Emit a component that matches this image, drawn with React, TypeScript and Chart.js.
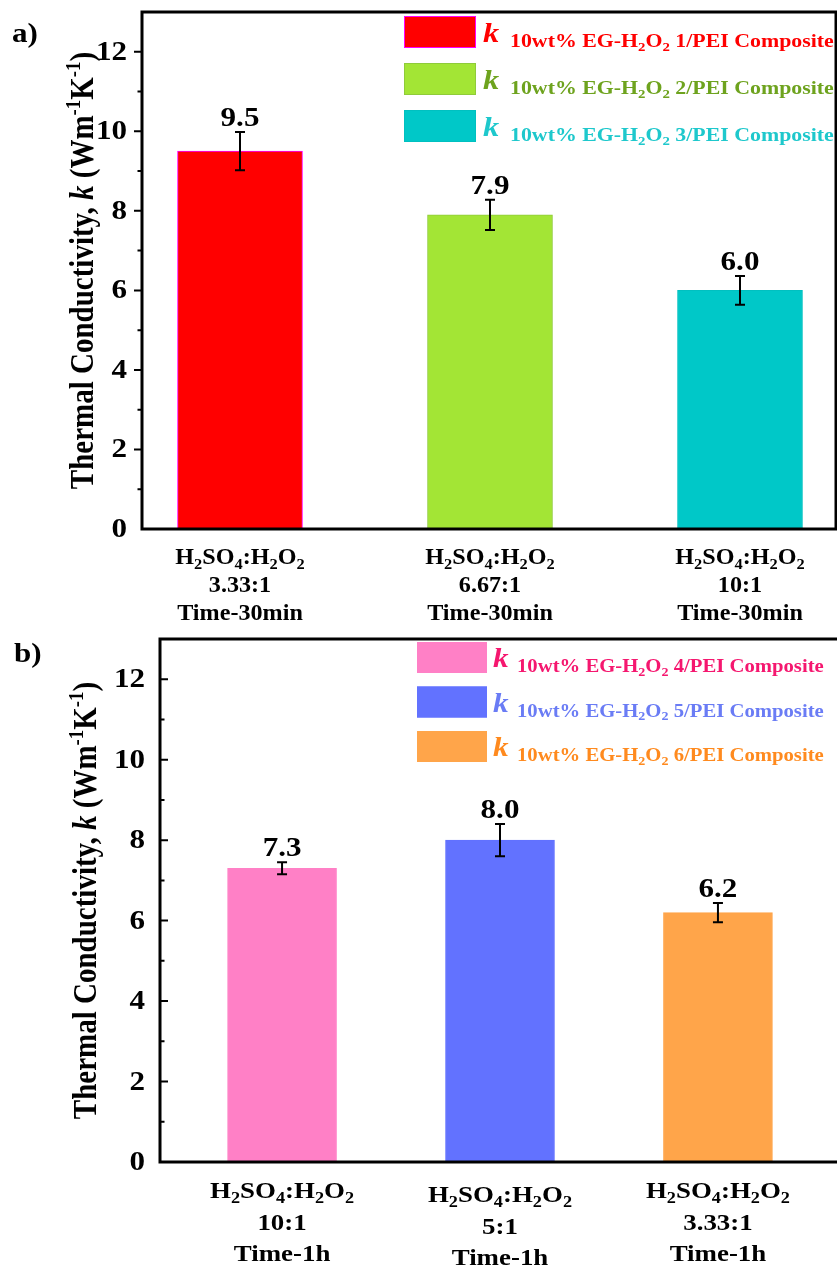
import React, { useEffect, useRef } from "react";
import { Chart, registerables } from "chart.js";
Chart.register(...registerables);

const SERIF = '"Liberation Serif", "Times New Roman", serif';
const SX = 1.15; // horizontal text stretch seen in the reference

// ---------- Panel a data ----------
const positionsA = [1, 2, 3];
const valuesA = [9.5, 7.9, 6.0];
const errorsA = [0.48, 0.38, 0.36];
const ratiosA = ["3.33:1", "6.67:1", "10:1"];
const timesA = ["Time-30min", "Time-30min", "Time-30min"];
const legendIdsA = ["1", "2", "3"];
const barColorsA = ["#FF0000", "#A3E535", "#00C8C8"];
const barBordersA = ["#FF00FF", "#8FCB3A", "#00C0C0"];
const textColorsA = ["#FF0000", "#6EA31E", "#1EC8CC"];

// ---------- Panel b data ----------
const positionsB = [1, 2, 3];
const valuesB = [7.3, 8.0, 6.2];
const errorsB = [0.15, 0.4, 0.24];
const ratiosB = ["10:1", "5:1", "3.33:1"];
const timesB = ["Time-1h", "Time-1h", "Time-1h"];
const legendIdsB = ["4", "5", "6"];
const barColorsB = ["#FF80C6", "#6272FF", "#FFA54A"];
const barBordersB = ["#FF80C6", "#6272FF", "#FFA54A"];
const textColorsB = ["#F5176F", "#6A7CF5", "#FF8A1E"];

// ---------- axis ----------
const yMajorTicks = [0, 2, 4, 6, 8, 10, 12];
const yMinorTicks = [1, 3, 5, 7, 9, 11];
const yMax = 13;

type Seg = { t: string; size: number; italic?: boolean; dy?: number; color?: string };

function segFont(s: Seg) {
  return `${s.italic ? "italic " : ""}bold ${s.size}px ${SERIF}`;
}
function richWidth(ctx: CanvasRenderingContext2D, segs: Seg[]) {
  let w = 0;
  for (const s of segs) {
    ctx.font = segFont(s);
    w += ctx.measureText(s.t).width;
  }
  return w;
}
function drawRich(
  ctx: CanvasRenderingContext2D,
  segs: Seg[],
  x: number,
  y: number,
  align: "left" | "center" | "right",
  color: string,
  baseline: CanvasTextBaseline = "alphabetic",
  sx: number = SX
) {
  const w = richWidth(ctx, segs) * sx;
  const x0 = align === "center" ? x - w / 2 : align === "right" ? x - w : x;
  ctx.save();
  ctx.translate(x0, y);
  ctx.scale(sx, 1);
  ctx.textAlign = "left";
  ctx.textBaseline = baseline;
  let cx = 0;
  for (const s of segs) {
    ctx.font = segFont(s);
    ctx.fillStyle = s.color || color;
    ctx.fillText(s.t, cx, s.dy || 0);
    cx += ctx.measureText(s.t).width;
  }
  ctx.restore();
}
function sub(t: string, size: number): Seg {
  return { t, size: size * 0.68, dy: size * 0.22 };
}
function sup(t: string, size: number): Seg {
  return { t, size: size * 0.65, dy: -size * 0.4 };
}
function formulaSegs(size: number): Seg[] {
  return [
    { t: "H", size },
    sub("2", size),
    { t: "SO", size },
    sub("4", size),
    { t: ":H", size },
    sub("2", size),
    { t: "O", size },
    sub("2", size),
  ];
}
function legendSegs(id: string, size: number): Seg[] {
  return [
    { t: "10wt% EG-H", size },
    sub("2", size),
    { t: "O", size },
    sub("2", size),
    { t: ` ${id}/PEI Composite`, size },
  ];
}
function titleSegs(size: number): Seg[] {
  return [
    { t: "Thermal Conductivity, ", size },
    { t: "k", size, italic: true },
    { t: " (Wm", size },
    sup("-1", size),
    { t: "K", size },
    sup("-1", size),
    { t: ")", size },
  ];
}

type Panel = {
  tag: string;
  label: string;
  labelX: number;
  labelY: number;
  positions: number[];
  values: number[];
  errors: number[];
  ratios: string[];
  times: string[];
  legendIds: string[];
  barColors: string[];
  barBorders: string[];
  textColors: string[];
  xMin: number;
  xMax: number;
  padding: { left: number; right: number; top: number; bottom: number };
  barThickness: number;
  ticksOutward: boolean;
  titleX: number;
  tickLabelGap: number;
  legendBox: { x: number; y: number; w: number; h: number; step: number; kX: number; textX: number; kSize: number; textSize: number };
  xLabelBaselines: number[];
  xLabelShift: number[];
  xLabelSize: number;
  xLabelSX: number;
};

function makePlugin(p: Panel) {
  return {
    id: "panel" + p.tag,
    afterDatasetsDraw(chart: any) {
      const ctx: CanvasRenderingContext2D = chart.ctx;
      const { left, right, top, bottom } = chart.chartArea;
      const xs = chart.scales.x;
      const ys = chart.scales.y;
      ctx.save();

      // error bars + value labels
      p.values.forEach((v, i) => {
        const x = xs.getPixelForValue(p.positions[i]);
        const yt = ys.getPixelForValue(v + p.errors[i]);
        const yb = ys.getPixelForValue(v - p.errors[i]);
        ctx.strokeStyle = "#000";
        ctx.lineWidth = 2;
        ctx.beginPath();
        ctx.moveTo(x, yt);
        ctx.lineTo(x, yb);
        ctx.moveTo(x - 5, yt);
        ctx.lineTo(x + 5, yt);
        ctx.moveTo(x - 5, yb);
        ctx.lineTo(x + 5, yb);
        ctx.stroke();
        drawRich(ctx, [{ t: v.toFixed(1), size: 27 }], x, yt - 6, "center", "#000");
      });

      // frame
      ctx.strokeStyle = "#000";
      ctx.lineWidth = 3;
      ctx.strokeRect(left, top, right - left, bottom - top);

      // y ticks
      ctx.lineWidth = 2;
      const dir = p.ticksOutward ? -1 : 1;
      ctx.beginPath();
      yMajorTicks.forEach((t) => {
        const y = ys.getPixelForValue(t);
        if (t === 0) return;
        ctx.moveTo(left, y);
        ctx.lineTo(left + dir * 8, y);
      });
      yMinorTicks.forEach((t) => {
        const y = ys.getPixelForValue(t);
        ctx.moveTo(left, y);
        ctx.lineTo(left + dir * 4.5, y);
      });
      ctx.stroke();

      // y tick labels
      yMajorTicks.forEach((t) => {
        drawRich(ctx, [{ t: String(t), size: 27 }], left - p.tickLabelGap, ys.getPixelForValue(t) + 1, "right", "#000", "middle");
      });

      // y title (rotated)
      ctx.save();
      ctx.translate(p.titleX, (top + bottom) / 2);
      ctx.scale(SX, 1);
      ctx.rotate(-Math.PI / 2);
      const tsegs = titleSegs(29);
      const tw = richWidth(ctx, tsegs);
      let cx = -tw / 2;
      ctx.textAlign = "left";
      ctx.textBaseline = "alphabetic";
      for (const s of tsegs) {
        ctx.font = segFont(s);
        ctx.fillStyle = "#000";
        ctx.fillText(s.t, cx, s.dy || 0);
        cx += ctx.measureText(s.t).width;
      }
      ctx.restore();

      // x labels
      p.positions.forEach((pos, i) => {
        const x = xs.getPixelForValue(pos);
        const s = p.xLabelSize;
        const d = p.xLabelShift[i];
        drawRich(ctx, formulaSegs(s), x, p.xLabelBaselines[0] + d, "center", "#000", "alphabetic", p.xLabelSX);
        drawRich(ctx, [{ t: p.ratios[i], size: s }], x, p.xLabelBaselines[1] + d, "center", "#000", "alphabetic", p.xLabelSX);
        drawRich(ctx, [{ t: p.times[i], size: s }], x, p.xLabelBaselines[2] + d, "center", "#000", "alphabetic", p.xLabelSX);
      });

      // legend
      const lb = p.legendBox;
      p.legendIds.forEach((id, i) => {
        const by = lb.y + i * lb.step;
        ctx.fillStyle = p.barColors[i];
        ctx.fillRect(lb.x, by, lb.w, lb.h);
        ctx.strokeStyle = p.barBorders[i];
        ctx.lineWidth = 1;
        ctx.strokeRect(lb.x + 0.5, by + 0.5, lb.w - 1, lb.h - 1);
        drawRich(ctx, [{ t: "k", size: lb.kSize, italic: true }], lb.kX, by + lb.h * 0.82, "left", p.textColors[i]);
        drawRich(ctx, legendSegs(id, lb.textSize), lb.textX, by + lb.h - 1, "left", p.textColors[i]);
      });

      // panel label
      drawRich(ctx, [{ t: p.label, size: 27 }], p.labelX, p.labelY, "left", "#000");

      ctx.restore();
    },
  };
}

function makeConfig(p: Panel): any {
  return {
    type: "bar",
    data: {
      datasets: [
        {
          data: p.positions.map((x, i) => ({ x, y: p.values[i] })),
          backgroundColor: p.barColors,
          borderColor: p.barBorders,
          borderWidth: 1,
          barThickness: p.barThickness,
        },
      ],
    },
    options: {
      responsive: false,
      animation: false,
      devicePixelRatio: 1,
      layout: { padding: p.padding },
      plugins: { legend: { display: false }, tooltip: { enabled: false } },
      scales: {
        x: { type: "linear", display: false, offset: false, grid: { offset: false }, min: p.xMin, max: p.xMax },
        y: { type: "linear", display: false, min: 0, max: yMax },
      },
    },
    plugins: [makePlugin(p)],
  };
}

const panelA: Panel = {
  tag: "a",
  label: "a)",
  labelX: 12,
  labelY: 42,
  positions: positionsA,
  values: valuesA,
  errors: errorsA,
  ratios: ratiosA,
  times: timesA,
  legendIds: legendIdsA,
  barColors: barColorsA,
  barBorders: barBordersA,
  textColors: textColorsA,
  xMin: 0.608,
  xMax: 3.384,
  padding: { left: 142, right: 1, top: 12, bottom: 101 },
  barThickness: 125,
  ticksOutward: true,
  titleX: 93,
  tickLabelGap: 15,
  legendBox: { x: 404, y: 16, w: 72, h: 32, step: 47, kX: 483, textX: 510, kSize: 28, textSize: 19 },
  xLabelBaselines: [564, 592, 620],
  xLabelShift: [0, 0, 0],
  xLabelSize: 23,
  xLabelSX: 1.05,
};

const panelB: Panel = {
  tag: "b",
  label: "b)",
  labelX: 14,
  labelY: 32,
  positions: positionsB,
  values: valuesB,
  errors: errorsB,
  ratios: ratiosB,
  times: timesB,
  legendIds: legendIdsB,
  barColors: barColorsB,
  barBorders: barBordersB,
  textColors: textColorsB,
  xMin: 0.44,
  xMax: 3.56,
  padding: { left: 160, right: 60, top: 9, bottom: 104 },
  barThickness: 109,
  ticksOutward: false,
  titleX: 96,
  tickLabelGap: 15,
  legendBox: { x: 417, y: 12, w: 70, h: 31, step: 44.5, kX: 493, textX: 517, kSize: 27, textSize: 18 },
  xLabelBaselines: [568, 600, 631],
  xLabelShift: [0, 4, 0],
  xLabelSize: 24,
  xLabelSX: 1.12,
};

export default function App() {
  const refA = useRef<HTMLCanvasElement | null>(null);
  const refB = useRef<HTMLCanvasElement | null>(null);
  useEffect(() => {
    const a = new Chart(refA.current as HTMLCanvasElement, makeConfig(panelA));
    const b = new Chart(refB.current as HTMLCanvasElement, makeConfig(panelB));
    return () => {
      a.destroy();
      b.destroy();
    };
  }, []);
  return (
    <div
      style={{
        position: "fixed",
        left: 0,
        top: 0,
        width: 837,
        height: 1266,
        overflow: "hidden",
        background: "#fff",
      }}
    >
      <canvas ref={refA} width={837} height={630} style={{ position: "absolute", left: 0, top: 0 }} />
      <canvas ref={refB} width={900} height={636} style={{ position: "absolute", left: 0, top: 630 }} />
    </div>
  );
}
